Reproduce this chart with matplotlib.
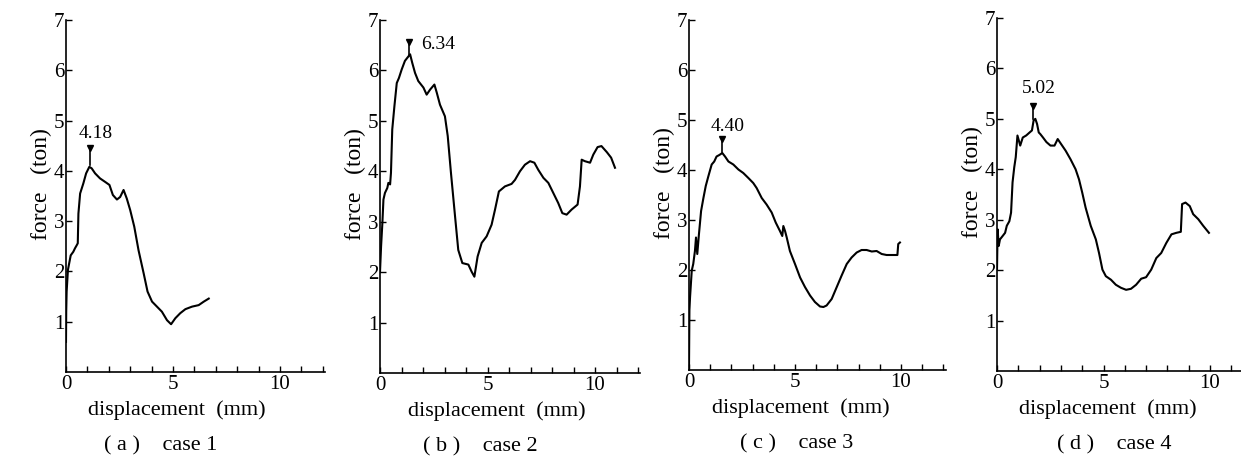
import numpy as np
import matplotlib.pyplot as plt

plt.rcParams['font.family'] = ['Liberation Serif', 'DejaVu Serif']

# data (displacement mm, force ton)
case1_x = [0.0, 0.01, 0.03, 0.09, 0.22, 0.34, 0.42, 0.5, 0.55, 0.58, 0.66, 0.81, 0.94, 1.09,
           1.2, 1.36, 1.59, 1.83, 2.03, 2.19, 2.38, 2.53, 2.69, 2.84, 3.0, 3.19, 3.39, 3.63,
           3.81, 4.02, 4.25, 4.48, 4.72, 4.91, 5.11, 5.34, 5.58, 5.89, 6.2, 6.44, 6.67]
case1_y = [0.6, 1.2, 1.6, 2.03, 2.32, 2.39, 2.46, 2.52, 2.56, 3.15, 3.55, 3.75, 3.95, 4.08,
           4.05, 3.95, 3.85, 3.78, 3.72, 3.52, 3.43, 3.48, 3.62, 3.45, 3.22, 2.89, 2.42, 1.96,
           1.6, 1.4, 1.3, 1.2, 1.03, 0.95, 1.07, 1.17, 1.25, 1.3, 1.33, 1.4, 1.46]

case2_x = [0.0, 0.05, 0.11, 0.16, 0.23, 0.34, 0.39, 0.47, 0.51, 0.57, 0.67, 0.78, 0.88, 1.01,
           1.16, 1.27, 1.4, 1.5, 1.63, 1.78, 2.02, 2.17, 2.33, 2.53, 2.64, 2.79, 3.02, 3.15,
           3.3, 3.49, 3.64, 3.83, 4.11, 4.26, 4.39, 4.54, 4.73, 4.96, 5.19, 5.35, 5.53, 5.81,
           6.12, 6.28, 6.51, 6.74, 6.98, 7.18, 7.36, 7.6, 7.83, 8.06, 8.29, 8.48, 8.68, 8.91,
           9.19, 9.3, 9.38, 9.53, 9.77, 9.92, 10.12, 10.3, 10.55, 10.75, 10.93]
case2_y = [2.0, 2.51, 2.97, 3.44, 3.57, 3.67, 3.77, 3.74, 3.97, 4.83, 5.29, 5.75, 5.85, 6.02,
           6.19, 6.25, 6.32, 6.15, 5.95, 5.79, 5.66, 5.52, 5.62, 5.72, 5.56, 5.32, 5.09, 4.7,
           3.97, 3.11, 2.44, 2.18, 2.15, 2.01, 1.91, 2.31, 2.58, 2.71, 2.94, 3.24, 3.6, 3.7,
           3.75, 3.83, 4.0, 4.13, 4.2, 4.17, 4.03, 3.87, 3.77, 3.57, 3.37, 3.17, 3.14, 3.24,
           3.34, 3.7, 4.23, 4.2, 4.17, 4.33, 4.48, 4.5, 4.38, 4.27, 4.07]

case3_x = [0.0, 0.02, 0.05, 0.13, 0.2, 0.28, 0.33, 0.39, 0.47, 0.57, 0.68, 0.79, 0.91, 1.07,
           1.19, 1.3, 1.43, 1.57, 1.7, 1.86, 2.09, 2.33, 2.56, 2.8, 3.03, 3.19, 3.43, 3.66,
           3.9, 4.09, 4.29, 4.4, 4.45, 4.53, 4.61, 4.76, 5.0, 5.24, 5.47, 5.71, 5.94, 6.18,
           6.34, 6.49, 6.73, 6.97, 7.2, 7.44, 7.67, 7.91, 8.14, 8.38, 8.62, 8.85, 9.09, 9.32,
           9.56, 9.83, 9.87, 9.95]
case3_y = [0.05, 1.2, 1.46, 1.99, 2.12, 2.38, 2.65, 2.32, 2.72, 3.18, 3.44, 3.68, 3.87, 4.11,
           4.17, 4.27, 4.3, 4.34, 4.27, 4.17, 4.11, 4.01, 3.94, 3.84, 3.74, 3.64, 3.44, 3.31,
           3.15, 2.95, 2.78, 2.68, 2.88, 2.78, 2.65, 2.38, 2.12, 1.85, 1.66, 1.49, 1.36, 1.27,
           1.26, 1.29, 1.42, 1.66, 1.89, 2.12, 2.25, 2.35, 2.4, 2.4, 2.37, 2.38, 2.32, 2.3,
           2.3, 2.3, 2.52, 2.55]

case4_x = [0.0, 0.03, 0.08, 0.14, 0.27, 0.38, 0.46, 0.58, 0.66, 0.73, 0.81, 0.88, 0.96, 1.09,
           1.21, 1.37, 1.53, 1.64, 1.72, 1.8, 1.88, 1.96, 2.03, 2.16, 2.32, 2.51, 2.7, 2.85,
           3.01, 3.22, 3.45, 3.69, 3.85, 4.0, 4.16, 4.4, 4.64, 4.79, 4.95, 5.11, 5.35, 5.58,
           5.82, 6.06, 6.29, 6.53, 6.77, 7.0, 7.24, 7.48, 7.71, 7.95, 8.19, 8.42, 8.63, 8.69,
           8.85, 9.05, 9.21, 9.45, 9.68, 9.95]
case4_y = [2.01, 2.81, 2.48, 2.61, 2.68, 2.74, 2.88, 2.97, 3.14, 3.74, 4.04, 4.24, 4.67, 4.47,
           4.63, 4.67, 4.73, 4.77, 4.97, 5.0, 4.9, 4.73, 4.7, 4.63, 4.54, 4.47, 4.47, 4.6,
           4.5, 4.37, 4.2, 4.0, 3.8, 3.54, 3.24, 2.88, 2.61, 2.34, 2.01, 1.88, 1.81, 1.71,
           1.65, 1.61, 1.63, 1.71, 1.83, 1.86, 2.01, 2.24, 2.34, 2.54, 2.71, 2.74, 2.76, 3.31,
           3.34, 3.27, 3.11, 3.01, 2.88, 2.74]

peak_labels = ["4.18", "6.34", "4.40", "5.02"]
captions = ["( a )    case 1", "( b )    case 2", "( c )    case 3", "( d )    case 4"]

xs = [case1_x, case2_x, case3_x, case4_x]
ys = [case1_y, case2_y, case3_y, case4_y]

# layout: left px, bottom px, top px, px per mm
panels = [(66, 372, 20, 21.4), (380, 373, 20, 21.5), (689, 370, 20, 21.2), (997, 371, 18, 21.3)]
# marker x, marker top, marker bottom, label x, label y
marks = [(1.12, 4.45, 4.12, 1.4, 4.75), (1.35, 6.57, 6.3, 2.72, 6.51),
         (1.56, 4.63, 4.36, 1.8, 4.87), (1.69, 5.26, 5.0, 1.97, 5.6)]
xlab_x = [5.2, 5.44, 5.28, 5.2]
cap_x = [4.44, 4.65, 5.1, 5.5]

W, H = 1241, 472
fig = plt.figure(figsize=(W / 100, H / 100), dpi=100)

for i in range(4):
    left, bot, top, ppm = panels[i]
    ax = fig.add_axes([left / W, (H - bot) / H, 12.1 * ppm / W, (bot - top) / H])
    ax.plot(xs[i], ys[i], color='black', lw=1.5)
    ax.set_xlim(0, 12.1)
    ax.set_ylim(0, 7)
    for s in ['top', 'right']:
        ax.spines[s].set_visible(False)
    for s in ['left', 'bottom']:
        ax.spines[s].set_linewidth(1.2)
    ax.set_xticks(np.arange(0, 13, 1))
    ax.set_xticklabels(['0', '', '', '', '', '5', '', '', '', '', '10', '', ''])
    ax.set_yticks(range(1, 8))
    ax.tick_params(direction='in', length=4, width=1, labelsize=15, pad=2)
    ax.tick_params(axis='y', pad=1)
    ax.set_ylabel('force   (ton)', fontsize=17)
    ax.yaxis.set_label_coords(-0.055, 0.534)

    mx, mt, mb, lx, ly = marks[i]
    ax.plot([mx, mx], [mb, mt], color='black', lw=1.2)
    ax.plot([mx], [mt], marker='v', color='black', markersize=5)
    ax.text(lx, ly, peak_labels[i], fontsize=14, ha='center', va='center')

    trans = ax.get_xaxis_transform()
    ax.text(xlab_x[i], -0.108, 'displacement  (mm)', fontsize=16, ha='center', va='center',
            transform=trans)
    ax.text(cap_x[i], -0.21, captions[i], fontsize=16, ha='center', va='center',
            transform=trans)

fig.savefig('out.png', dpi=100)
